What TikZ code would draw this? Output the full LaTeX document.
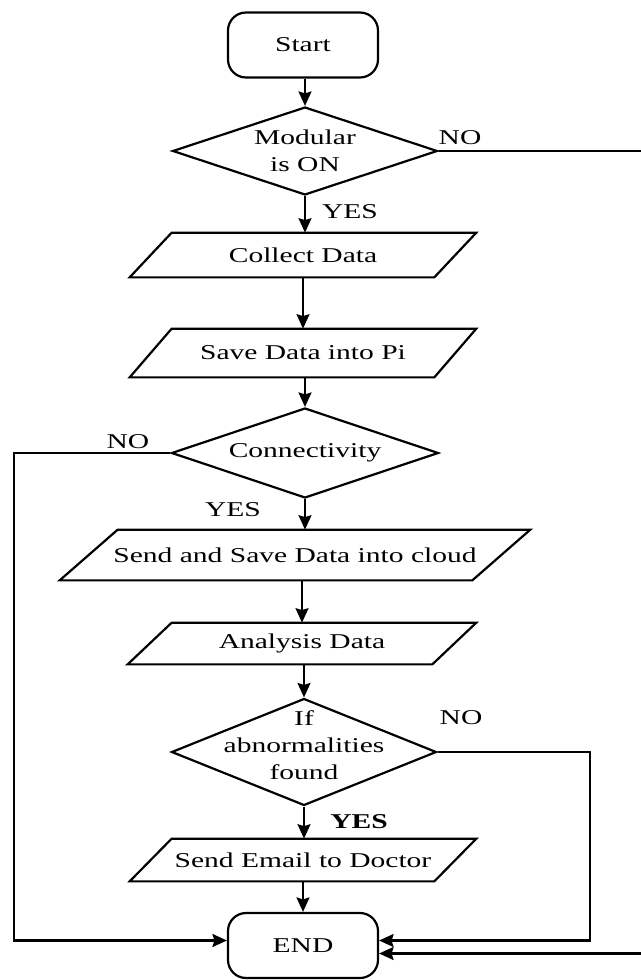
\documentclass[tikz,border=0pt]{standalone}
\usepackage{fontspec}
\setmainfont{Liberation Serif}[FakeStretch=1.4]
\usetikzlibrary{shapes.geometric,arrows.meta,calc}

% parallelogram outline around an (undrawn) io node: #1 node name, #2 half slant
\newcommand\slantbox[2]{%
  \draw[line] ($(#1.south west)+(-#2,0)$) -- ($(#1.north west)+(#2,0)$)
    -- ($(#1.north east)+(#2,0)$) -- ($(#1.south east)+(-#2,0)$) -- cycle;}
% text that does not push the outline of its node outwards
\newcommand\freetext[1]{\makebox[0pt]{\smash{\begin{tabular}{@{}c@{}}#1\end{tabular}}}}

\begin{document}
\begin{tikzpicture}[x=0.02cm,y=-0.02cm,
  every node/.style={font=\fontsize{12}{15.4}\selectfont},
  line/.style={line width=1.25pt, line join=miter},
  arr/.style={line, -{Stealth[length=0.29cm,width=0.26cm,inset=0.04cm]}},
  terminal/.style={draw, line, rounded corners=0.36cm, minimum width=3cm, minimum height=1.3cm},
  decision/.style={draw, line, diamond, aspect=3, inner sep=0pt, align=center},
  iobox/.style={inner sep=0pt, minimum width=6.08cm},
  tag/.style={inner sep=0pt}]

\useasboundingbox (0,0) rectangle (641,980);

% main column
\node[terminal] (start) at (303,45) {Start};
\node[decision, minimum width=5.3cm, minimum height=1.76cm] (d1) at (305,151) {Modular\\is ON};
\node[iobox, minimum height=0.88cm] (collect) at (303,255) {Collect Data};
\node[iobox, minimum height=0.96cm] (save) at (303,353) {Save Data into Pi};
\node[decision, minimum width=5.34cm, minimum height=1.8cm] (conn) at (305,453) {Connectivity};
\node[iobox, minimum width=8.24cm, minimum height=1cm] (send) at (295,555) {Send and Save Data into cloud};
\node[iobox, minimum height=0.82cm] (analysis) at (302,643.5) {Analysis Data};
\node[decision, minimum width=5.3cm, minimum height=2.14cm] (d3) at (304,752) {\freetext{If\\abnormalities\\found}};
\node[iobox, minimum height=0.84cm] (email) at (303,860) {Send Email to Doctor};
\node[terminal] (endn) at (303,945.5) {END};

\slantbox{collect}{21}
\slantbox{save}{21}
\slantbox{send}{29}
\slantbox{analysis}{22}
\slantbox{email}{21}

% vertical flow
\draw[arr] (start.south -| d1.north) -- (d1.north);
\draw[arr] (d1.south) -- (d1.south |- collect.north);
\draw[arr] (collect.south) -- (save.north);
\draw[arr] (save.south -| conn.north) -- (conn.north);
\draw[arr] (conn.south) -- (conn.south |- send.north);
\draw[arr] (send.south -| analysis.north) -- (analysis.north);
\draw[arr] (analysis.south -| d3.north) -- (d3.north);
\draw[arr] (d3.south) -- (d3.south |- email.north);
\draw[arr] (email.south) -- (endn.north);

% side branches
\coordinate (railR) at (660,0);
\coordinate (railA) at (590,0);
\coordinate (railL) at (14,0);
\draw[arr] (d1.east) -- (d1.east -| railR) |- ($(endn.east)+(0,8)$);
\draw[arr] (d3.east) -- (d3.east -| railA) |- ($(endn.east)+(0,-5)$);
\draw[arr] (conn.west) -- (conn.west -| railL) |- ($(endn.west)+(0,-5)$);

% branch labels
\node[tag] (no1) at (460,138) {NO};
\node[tag] (yes1) at (350,212) {YES};
\node[tag] (no2) at (128,442) {NO};
\node[tag] (yes2) at (233,510) {YES};
\node[tag] (no3) at (461,718) {NO};
\node[tag] (yes3) at (359,822) {\bfseries YES};
\end{tikzpicture}
\end{document}
